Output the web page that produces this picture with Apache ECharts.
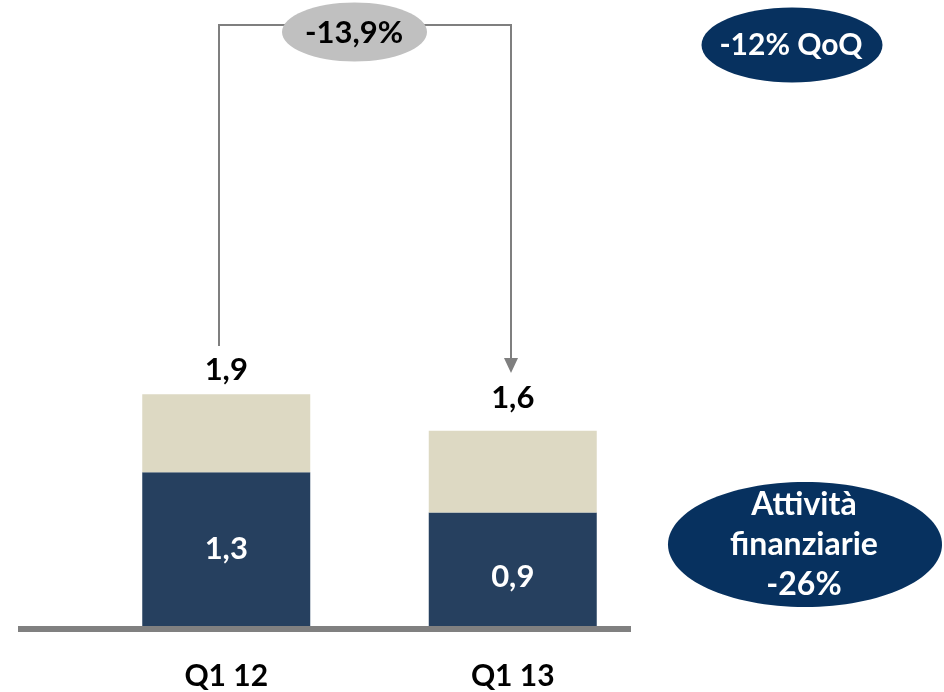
<!DOCTYPE html>
<html>
<head>
<meta charset="utf-8">
<script src="https://cdn.jsdelivr.net/npm/echarts@6/dist/echarts.min.js"></script>
<style>html,body{margin:0;padding:0;background:#fff}#c{width:944px;height:692px}</style>
</head>
<body>
<div id="c"></div>
<script>
// ---- data ----
const categories = ['Q1 12', 'Q1 13'];
const finanziarie = [1.26, 0.93];   // dark segment (Attività finanziarie)
const altro = [0.64, 0.67];         // light segment
const changeLabel = '-13,9%';
const qoqLabel = '-12% QoQ';
const finLabel = 'Attività\nfinanziarie\n-26%';

// ---- helpers ----
const fmt = v => v.toFixed(1).replace('.', ',');
const FONT = 'Lato';
const DARK = '#26405f';
const LIGHT = '#ddd9c3';
const NAVY = '#07315f';
const GREY = '#7f7f7f';

const topDist = [9, 17];
const inOffset = [0, 8];

const chart = echarts.init(document.getElementById('c'), null, {renderer: 'canvas'});
chart.setOption({
  animation: false,
  grid: {left: 83, right: 288, top: 16, bottom: 66},
  xAxis: {
    type: 'category',
    data: categories,
    axisLine: {show: false},
    axisTick: {show: false},
    axisLabel: {color: '#000', fontFamily: FONT, fontWeight: 'bold', fontSize: 30, margin: 35}
  },
  yAxis: {type: 'value', min: 0, max: 5, show: false, splitLine: {show: false}},
  series: [
    {
      type: 'bar', stack: 'tot', barWidth: 168,
      itemStyle: {color: DARK},
      data: finanziarie.map((v, i) => ({value: v, label: {offset: [0, inOffset[i]]}})),
      label: {show: true, position: 'inside', color: '#fff', fontFamily: FONT, fontWeight: 'bold', fontSize: 31,
              formatter: p => fmt(p.value)}
    },
    {
      type: 'bar', stack: 'tot', barWidth: 168,
      itemStyle: {color: LIGHT},
      data: altro.map((v, i) => ({value: v, label: {distance: topDist[i]}})),
      label: {show: true, position: 'top', color: '#000', fontFamily: FONT, fontWeight: 'bold', fontSize: 31,
              formatter: p => fmt(finanziarie[p.dataIndex] + altro[p.dataIndex])}
    }
  ],
  graphic: [
    {type: 'line', shape: {x1: 18, y1: 629, x2: 631, y2: 629}, style: {stroke: '#808080', lineWidth: 6}},
    {type: 'polyline', shape: {points: [[219, 346], [219, 25], [511, 25], [511, 360]]},
     style: {stroke: GREY, lineWidth: 2, fill: null}},
    {type: 'polygon', shape: {points: [[504, 358], [518, 358], [511, 373]]}, style: {fill: GREY}},
    {type: 'ellipse', shape: {cx: 354.5, cy: 32, rx: 72.5, ry: 29.5}, style: {fill: '#c0c0c0'}},
    {type: 'text', x: 354, y: 33, style: {text: changeLabel, fill: '#000', font: 'bold 31px ' + FONT, textAlign: 'center', textVerticalAlign: 'middle'}},
    {type: 'ellipse', shape: {cx: 792, cy: 45, rx: 90.5, ry: 37.5}, style: {fill: NAVY}},
    {type: 'text', x: 791, y: 45, style: {text: qoqLabel, fill: '#fff', font: 'bold 30px ' + FONT, textAlign: 'center', textVerticalAlign: 'middle'}},
    {type: 'ellipse', shape: {cx: 805, cy: 544.5, rx: 137, ry: 62.5}, style: {fill: NAVY}},
    {type: 'text', x: 804, y: 545, style: {text: finLabel, fill: '#fff', font: 'bold 32px ' + FONT, lineHeight: 40, textAlign: 'center', textVerticalAlign: 'middle'}}
  ]
});
</script>
</body>
</html>
